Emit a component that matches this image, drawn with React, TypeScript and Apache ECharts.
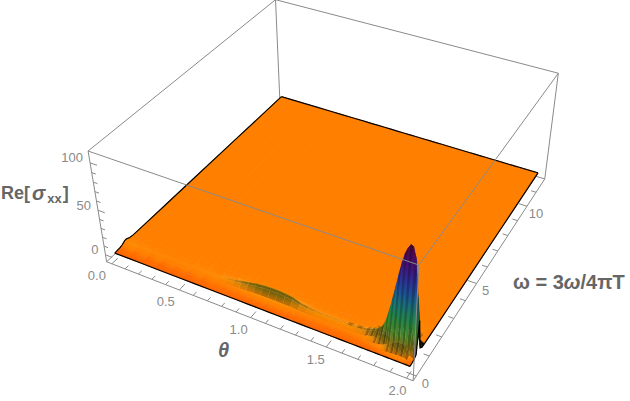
import React, { useEffect, useRef } from "react";
import * as echarts from "echarts";

const thetaGrid = [0, 0.1, 0.2, 0.3, 0.4, 0.5, 0.6, 0.7, 0.75, 0.8, 0.85, 0.9, 0.95, 1.0, 1.05, 1.1, 1.15, 1.2, 1.25, 1.3, 1.35, 1.4, 1.45, 1.5, 1.53, 1.56, 1.59, 1.62, 1.65, 1.68,
  1.7, 1.715, 1.73, 1.745, 1.76, 1.775, 1.79, 1.805, 1.82, 1.835, 1.85, 1.865, 1.88, 1.895, 1.91, 1.925, 1.94, 1.955, 1.97, 1.985, 2.0];
const omegaGrid = [0, 0.15, 0.3, 0.45, 0.6, 0.675, 0.75, 0.9, 1.1, 1.4, 2, 3, 5, 8, 11.75];
const zRows = [
  [0, .3, .6, 1.4, 3.1, 3.5, 3.1, 1.6, 1.1, 1, 1, 1, 1, 1, 1],
  [0, .2, .6, 1.2, 2.3, 2.5, 2.3, 1.4, 1.1, 1, 1, 1, 1, 1, 1],
  [0, .2, .6, 1.1, 1.9, 2, 1.9, 1.3, 1.1, 1, 1, 1, 1, 1, 1],
  [0, .2, .5, 1, 1.5, 1.6, 1.5, 1.2, 1, 1, 1, 1, 1, 1, 1],
  [0, .2, .5, 1, 1.5, 1.6, 1.5, 1.2, 1, 1, 1, 1, 1, 1, 1],
  [0, .2, .6, 1.1, 1.9, 2, 1.9, 1.3, 1.1, 1, 1, 1, 1, 1, 1],
  [0, .2, .6, 1.1, 2.1, 2.3, 2.1, 1.3, 1.1, 1, 1, 1, 1, 1, 1],
  [0, .3, .6, 1.3, 2.7, 3, 2.7, 1.5, 1.1, 1, 1, 1, 1, 1, 1],
  [0, .3, .6, 1.5, 3.2, 3.6, 3.2, 1.7, 1.1, 1, 1, 1, 1, 1, 1],
  [0, .3, .7, 1.7, 4, 4.5, 4, 1.9, 1.2, 1, 1, 1, 1, 1, 1],
  [0, .3, .8, 2, 5.3, 6, 5.3, 2.3, 1.3, 1, 1, 1, 1, 1, 1],
  [0, .3, .8, 2.4, 6.5, 7.5, 6.5, 2.6, 1.3, 1, 1, 1, 1, 1, 1],
  [0, .3, .9, 2.8, 7.8, 9, 7.8, 3, 1.4, 1, 1, 1, 1, 1, 1],
  [0, .3, 1, 3, 8.7, 10, 8.7, 3.3, 1.5, 1, 1, 1, 1, 1, 1],
  [0, .3, 1, 3.2, 9.1, 10.5, 9.1, 3.4, 1.5, 1, 1, 1, 1, 1, 1],
  [0, .3, 1, 3.2, 9.1, 10.5, 9.1, 3.4, 1.5, 1, 1, 1, 1, 1, 1],
  [0, .3, 1, 3, 8.7, 10, 8.7, 3.3, 1.5, 1, 1, 1, 1, 1, 1],
  [0, .3, .9, 2.8, 7.8, 9, 7.8, 3, 1.4, 1, 1, 1, 1, 1, 1],
  [0, .3, .8, 2, 5.3, 6, 5.3, 2.3, 1.3, 1, 1, 1, 1, 1, 1],
  [0, .3, .7, 1.8, 4.4, 5, 4.4, 2, 1.2, 1, 1, 1, 1, 1, 1],
  [0, .3, .7, 1.6, 3.7, 4.2, 3.7, 1.8, 1.2, 1, 1, 1, 1, 1, 1],
  [0, .3, .6, 1.5, 3.4, 3.8, 3.4, 1.7, 1.1, 1, 1, 1, 1, 1, 1],
  [0, .3, .6, 1.5, 3.4, 3.8, 3.4, 1.7, 1.1, 1, 1, 1, 1, 1, 1],
  [0, .3, .6, 1.5, 3.2, 3.6, 3.2, 1.7, 1.1, 1, 1, 1, 1, 1, 1],
  [0, .3, .6, 1.5, 3.2, 3.6, 3.2, 1.7, 1.1, 1, 1, 1, 1, 1, 1],
  [0, .3, .6, 1.5, 3.2, 3.6, 3.2, 1.7, 1.1, 1, 1, 1, 1, 1, 1],
  [0, .3, .6, 1.5, 3.4, 3.8, 3.4, 1.7, 1.1, 1, 1, 1, 1, 1, 1],
  [0, .3, .7, 1.6, 3.7, 4.2, 3.7, 1.8, 1.2, 1, 1, 1, 1, 1, 1],
  [0, .3, .7, 1.8, 4.2, 4.8, 4.2, 2, 1.2, 1, 1, 1, 1, 1, 1],
  [0, .3, .7, 1.9, 4.8, 5.5, 4.8, 2.1, 1.2, 1, 1, 1, 1, 1, 1],
  [0, .3, 1.2, 3.5, 6.2, 6.5, 6.2, 3.8, 1.8, 1.2, 1, 1, 1, 1, 1],
  [0, .3, 1.3, 4, 7.1, 7.5, 7.1, 4.3, 1.9, 1.2, 1, 1, 1, 1, 1],
  [0, .4, 1.4, 4.6, 8, 8.5, 8, 4.8, 2, 1.2, 1, 1, 1, 1, 1],
  [0, .4, 1.6, 5.3, 9.5, 10, 9.5, 5.5, 2.3, 1.3, 1, 1, 1, 1, 1],
  [0, .4, 1.8, 6.3, 11.3, 12, 11.3, 6.5, 2.5, 1.3, 1, 1, 1, 1, 1],
  [0, .5, 2.2, 7.8, 14.2, 15, 14.2, 8, 3, 1.4, 1, 1, 1, 1, 1],
  [0, .6, 2.8, 10.3, 18.9, 20, 18.9, 10.5, 3.7, 1.6, 1, 1, 1, 1, 1],
  [0, .7, 3.7, 14.3, 26.4, 28, 26.4, 14.5, 4.8, 1.8, 1, 1, 1, 1, 1],
  [0, 1, 5, 19.8, 36.7, 39, 36.7, 20, 6.3, 2.1, 1, 1, 1, 1, 1],
  [0, 1.2, 6.5, 25.8, 48, 51, 48, 26, 8, 2.5, 1, 1, 1, 1, 1],
  [0, 1.5, 8.1, 32.3, 60.2, 64, 60.2, 32.5, 9.8, 2.9, 1, 1, 1, 1, 1],
  [0, 1.7, 9.6, 38.8, 72.4, 77, 72.4, 39, 11.6, 3.3, 1, 1, 1, 1, 1],
  [0, 2, 11.1, 44.8, 83.7, 89, 83.7, 45, 13.3, 3.6, 1, 1, 1, 1, 1],
  [0, 2.1, 12.1, 49.3, 92.2, 98, 92.2, 49.5, 14.6, 3.9, 1, 1, 1, 1, 1],
  [0, 2.3, 12.9, 52.3, 97.8, 104, 97.8, 52.5, 15.4, 4.1, 1, 1, 1, 1, 1],
  [0, 2.3, 13.3, 54.3, 101.6, 108, 101.6, 54.5, 16, 4.2, 1, 1, 1, 1, 1],
  [0, 2.3, 13.2, 53.8, 100.6, 107, 100.6, 54, 15.8, 4.2, 1, 1, 1, 1, 1],
  [0, 2.1, 12.1, 49.3, 92.2, 98, 92.2, 49.5, 14.6, 3.9, 1, 1, 1, 1, 1],
  [0, .6, 3, 28, 83, 70, 45, 15, 4, 2, 1, 1, 1, 1, 1],
  [0, .4, 1.5, 14, 60, 42, 22, 7, 2.5, 1.5, 1, 1, 1, 1, 1],
  [0, .3, 1, 3, 37, 18, 4, 1.5, 1.1, 1, 1, 1, 1, 1, 1],
];
const thetaTicks = [0, .1, .2, .3, .4, .5, .6, .7, .8, .9, 1, 1.1, 1.2, 1.3, 1.4, 1.5, 1.6, 1.7, 1.8, 1.9, 2];
const thetaMajor = [0, .5, 1, 1.5, 2];
const omegaTicks = [0, 1, 2, 3, 4, 5, 6, 7, 8, 9, 10, 11];
const omegaMajor = [0, 5, 10];
const zTicks = [0, 10, 20, 30, 40, 50, 60, 70, 80, 90, 100];
const zMajor = [0, 50, 100];
// colour ramp: [z, r, g, b]
const colourStops = [
  [0, 255, 100, 0], [1, 255, 127, 0], [2, 255, 133, 0], [3, 255, 142, 0], [4.5, 238, 145, 6], [6, 205, 140, 8],
  [8, 165, 132, 10], [11, 140, 120, 15], [20, 85, 150, 40], [35, 40, 150, 80], [48, 30, 130, 130],
  [62, 30, 90, 170], [75, 55, 50, 165], [88, 75, 20, 135], [100, 85, 10, 90], [108, 90, 10, 60],
];

// box limits
const TH0 = -0.04, TH1 = 2.04, OM0 = -0.235, OM1 = 11.985, Z0 = -8, Z1 = 112;
// camera calibration: [theta, omega, z, pixelX, pixelY]
const anchors = [
  [TH0, OM0, Z0, 106, 262], [TH1, OM0, Z0, 412, 381], [TH1, OM1, Z0, 544, 180],
  [TH0, OM0, Z1, 88.5, 151], [TH1, OM0, Z1, 418, 265], [TH1, OM1, Z1, 559, 73], [TH0, OM1, Z1, 275, 0],
  [0, 0, 0, 115, 253], [2, 0, 0, 412, 366], [2, 11.75, 0, 538, 173], [0, 11.75, 0, 282, 97],
];
const norm = (t: number, o: number, z: number) => [(t - TH0) / (TH1 - TH0), (o - OM0) / (OM1 - OM0), (z - Z0) / (Z1 - Z0)];

function solveCamera() {
  const n = 11;
  const M = Array.from({ length: n }, () => new Array(n + 1).fill(0));
  const add = (r: number[], b: number) => {
    for (let i = 0; i < n; i++) {
      for (let j = 0; j < n; j++) M[i][j] += r[i] * r[j];
      M[i][n] += r[i] * b;
    }
  };
  anchors.forEach(([t, o, z, x, y]) => {
    const [u, v, w] = norm(t, o, z);
    add([u, v, w, 1, 0, 0, 0, 0, -x * u, -x * v, -x * w], x);
    add([0, 0, 0, 0, u, v, w, 1, -y * u, -y * v, -y * w], y);
  });
  for (let c = 0; c < n; c++) {
    let p = c;
    for (let r = c + 1; r < n; r++) if (Math.abs(M[r][c]) > Math.abs(M[p][c])) p = r;
    [M[c], M[p]] = [M[p], M[c]];
    for (let r = 0; r < n; r++) {
      if (r === c) continue;
      const f = M[r][c] / M[c][c];
      for (let k = c; k <= n; k++) M[r][k] -= f * M[c][k];
    }
  }
  return M.map((row, i) => row[n] / row[i]);
}
const cam = solveCamera();
const project = (t: number, o: number, z: number) => {
  const [u, v, w] = norm(t, o, z);
  const d = cam[8] * u + cam[9] * v + cam[10] * w + 1;
  return [(cam[0] * u + cam[1] * v + cam[2] * w + cam[3]) / d, (cam[4] * u + cam[5] * v + cam[6] * w + cam[7]) / d];
};

function ramp(z: number, k: number) {
  let i = 0;
  while (i < colourStops.length - 2 && z > colourStops[i + 1][0]) i++;
  const a = colourStops[i], b = colourStops[i + 1];
  const f = Math.max(0, Math.min(1, (z - a[0]) / (b[0] - a[0])));
  const ch = (n: number) => Math.round((a[n] + (b[n] - a[n]) * f) * k);
  return `rgb(${ch(1)},${ch(2)},${ch(3)})`;
}

const quadData: number[][] = [];
for (let c = omegaGrid.length - 2; c >= 0; c--) for (let r = 0; r < thetaGrid.length - 1; r++) quadData.push([r, c]);

const FRAME = "#8a8a8a";
const seg = (a: number[], b: number[], stroke = FRAME, lineWidth = 1) => ({
  type: "line", silent: true,
  shape: { x1: a[0], y1: a[1], x2: b[0], y2: b[1] },
  style: { stroke, lineWidth },
});
const corner = (t: number, o: number, z: number) => project(t, o, z);

const TICK_FONT = '13px "Liberation Sans", Arial, sans-serif';

function tickItem(p: number[], q: number[], label: string | null, dx: number, dy: number, align: string) {
  const children: any[] = [seg(p, q)];
  if (label !== null) {
    children.push({
      type: "text", silent: true,
      style: { x: p[0] + dx, y: p[1] + dy, text: label, fill: "#8a8a8a", font: TICK_FONT, align, verticalAlign: "middle" },
    });
  }
  return { type: "group", children };
}

export default function App() {
  const ref = useRef<HTMLDivElement>(null);
  useEffect(() => {
    const chart = echarts.init(ref.current!, undefined, { renderer: "svg" });
    chart.setOption({
      animation: false,
      backgroundColor: "#ffffff",
      series: [
        {
          type: "custom", coordinateSystem: "none", silent: true, clip: false, z: 1,
          data: [[0]],
          renderItem: () => ({
            type: "group",
            children: [
              seg(corner(TH0, OM1, Z1), corner(TH0, OM1, Z0)),
              seg(corner(TH0, OM0, Z0), corner(TH0, OM1, Z0)),
              seg(corner(TH0, OM1, Z0), corner(TH1, OM1, Z0)),
            ],
          }),
        },
        {
          type: "custom", coordinateSystem: "none", silent: true, clip: false, z: 2,
          data: quadData,
          renderItem: (_: any, api: any) => {
            const r = api.value(0), c = api.value(1);
            const zs = [zRows[r][c], zRows[r + 1][c], zRows[r + 1][c + 1], zRows[r][c + 1]];
            const zA = (zs[0] + zs[1]) / 2, zB = (zs[2] + zs[3]) / 2;
            const mean = (zA + zB) / 2;
            const slope = (zB - zA) / (omegaGrid[c + 1] - omegaGrid[c]);
            const fade = Math.max(0, Math.min(1, (mean - 2) / 4));
            const lit = slope > 0 ? 1 - Math.min(mean < 15 ? 0.26 : 0.1, slope * 0.03) * fade : 1;
            const sheen = mean < 15 && slope < 0 ? 0.45 : 1;
            const stripe = mean > 3 && thetaGrid[r] >= 1.56 && r % 2 === 1 ? 0.76 : 1;
            const dark = r >= thetaGrid.length - 3 && c >= 4 && c <= 7 ? 0.12 : 1;
            const k = stripe * lit * dark;
            const points = [
              project(thetaGrid[r], omegaGrid[c], zs[0]),
              project(thetaGrid[r + 1], omegaGrid[c], zs[1]),
              project(thetaGrid[r + 1], omegaGrid[c + 1], zs[2]),
              project(thetaGrid[r], omegaGrid[c + 1], zs[3]),
            ];
            if (Math.abs(zB - zA) < 0.05 && mean < 1.2) {
              const flat = ramp(mean, k);
              return { type: "polygon", silent: true, shape: { points }, style: { fill: flat, stroke: flat, lineWidth: 1 } };
            }
            const shown = (z: number) => (z > 1 ? 1 + (z - 1) * sheen : z);
            const pA = [(points[0][0] + points[1][0]) / 2, (points[0][1] + points[1][1]) / 2];
            const pB = [(points[2][0] + points[3][0]) / 2, (points[2][1] + points[3][1]) / 2];
            const fill = {
              type: "linear", global: true, x: pA[0], y: pA[1], x2: pB[0], y2: pB[1],
              colorStops: [0, 0.2, 0.4, 0.6, 0.8, 1].map((f) => ({ offset: f, color: ramp(shown(zA + (zB - zA) * f), k) })),
            };
            return { type: "polygon", silent: true, shape: { points }, style: { fill, stroke: fill, lineWidth: mean > 3 ? 0.3 : 0.8 } };
          },
        },
        {
          type: "custom", coordinateSystem: "none", silent: true, clip: false, z: 3,
          data: [[0]],
          renderItem: () => {
            const last = omegaGrid.length - 1, lastRow = thetaGrid.length - 1;
            const edge = (pts: number[][]) => ({
              type: "polyline", silent: true, shape: { points: pts },
              style: { stroke: "#000000", lineWidth: 1.2, fill: "none" },
            });
            return {
              type: "group",
              children: [
                edge(thetaGrid.map((t, r) => project(t, 0, zRows[r][0]))),
                edge(thetaGrid.map((t, r) => project(t, omegaGrid[last], zRows[r][last]))),
                edge(omegaGrid.map((o, c) => project(0, o, zRows[0][c]))),
                edge(omegaGrid.map((o, c) => project(2, o, zRows[lastRow][c]))),
              ],
            };
          },
        },
        {
          type: "custom", coordinateSystem: "none", silent: true, clip: false, z: 4,
          data: [[0]],
          renderItem: () => ({
            type: "group",
            children: [
              seg(corner(TH0, OM0, Z0), corner(TH1, OM0, Z0)),
              seg(corner(TH1, OM0, Z0), corner(TH1, OM1, Z0)),
              seg(corner(TH0, OM0, Z0), corner(TH0, OM0, Z1)),
              seg(corner(TH1, OM0, Z0), corner(TH1, OM0, Z1)),
              seg(corner(TH1, OM1, Z0), corner(TH1, OM1, Z1)),
              seg(corner(TH0, OM0, Z1), corner(TH1, OM0, Z1)),
              seg(corner(TH1, OM0, Z1), corner(TH1, OM1, Z1)),
              seg(corner(TH1, OM1, Z1), corner(TH0, OM1, Z1)),
              seg(corner(TH0, OM1, Z1), corner(TH0, OM0, Z1)),
            ],
          }),
        },
        {
          type: "custom", coordinateSystem: "none", silent: true, clip: false, z: 5,
          data: thetaTicks.map((t) => [t]),
          renderItem: (_: any, api: any) => {
            const t = api.value(0);
            const major = thetaMajor.includes(t);
            return tickItem(project(t, OM0, Z0), project(t, OM0 + (major ? 0.34 : 0.2), Z0), major ? t.toFixed(1) : null, -15 + 3 * t, 12, "center");
          },
        },
        {
          type: "custom", coordinateSystem: "none", silent: true, clip: false, z: 5,
          data: omegaTicks.map((o) => [o]),
          renderItem: (_: any, api: any) => {
            const o = api.value(0);
            const major = omegaMajor.includes(o);
            return tickItem(project(TH1, o, Z0), project(TH1 - (major ? 0.06 : 0.035), o, Z0), major ? String(o) : null, 9, 7, "center");
          },
        },
        {
          type: "custom", coordinateSystem: "none", silent: true, clip: false, z: 5,
          data: zTicks.map((z) => [z]),
          renderItem: (_: any, api: any) => {
            const z = api.value(0);
            const major = zMajor.includes(z);
            return tickItem(project(TH0, OM0, z), project(TH0 + (major ? 0.05 : 0.03), OM0, z), major ? String(z) : null, -7, -5, "right");
          },
        },
      ],
      graphic: [
        {
          type: "text", left: 1, top: 183, silent: true, z: 10,
          style: {
            text: "{b|Re[}{i|σ}{s|xx}{b|]}",
            rich: {
              b: { font: 'bold 18px "Liberation Sans", Arial, sans-serif', fill: "#666666" },
              i: { font: 'italic bold 20px "Liberation Sans", Arial, sans-serif', fill: "#666666", padding: [0, 1, 0, 2] },
              s: { font: 'bold 13px "Liberation Sans", Arial, sans-serif', fill: "#666666", padding: [10, 1, 0, 1] },
            },
          },
        },
        {
          type: "text", left: 218, top: 340, silent: true, z: 10,
          style: { text: "θ", fill: "#666666", font: 'italic bold 20px "Liberation Sans", Arial, sans-serif' },
        },
        {
          type: "text", left: 513, top: 272, silent: true, z: 10,
          style: {
            text: "{b|ω = 3}{i|ω}{b|/4πT}",
            rich: {
              b: { font: 'bold 20px "Liberation Sans", Arial, sans-serif', fill: "#666666" },
              i: { font: 'italic bold 20px "Liberation Sans", Arial, sans-serif', fill: "#666666" },
            },
          },
        },
      ],
    });
    return () => chart.dispose();
  }, []);
  return <div ref={ref} style={{ position: "fixed", left: 0, top: 0, width: 630, height: 401 }} />;
}
